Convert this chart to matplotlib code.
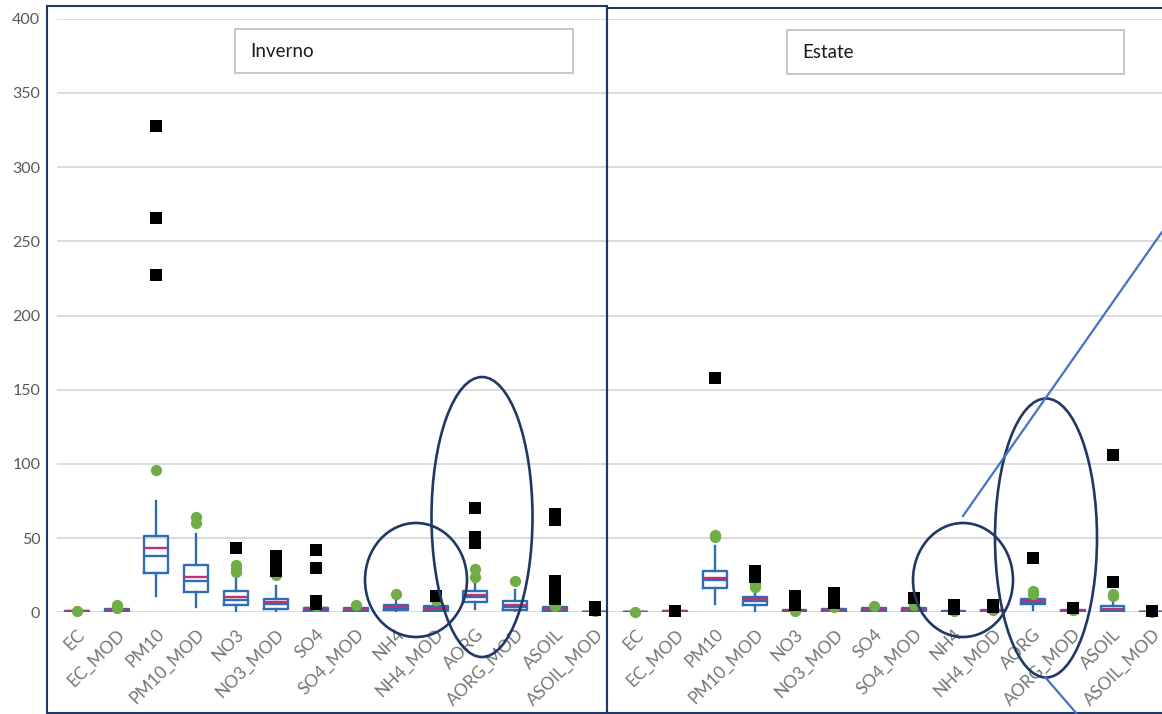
import matplotlib
matplotlib.use("Agg")
import matplotlib.pyplot as plt
from matplotlib.patches import Rectangle, Ellipse

plt.rcParams['font.family'] = ['Lato', 'DejaVu Sans']

# --- data -------------------------------------------------------------
species = ["EC", "EC_MOD", "PM10", "PM10_MOD", "NO3", "NO3_MOD", "SO4", "SO4_MOD",
           "NH4", "NH4_MOD", "AORG", "AORG_MOD", "ASOIL", "ASOIL_MOD"]

# Inverno (winter)
inv_q1     = [0.2, 0.4, 26.8, 13.9, 4.7, 2.5, 0.7, 0.6, 1.3, 0.7, 7.0, 1.3, 0.2, 0.0]
inv_med    = [0.4, 1.0, 38.0, 21.1, 8.6, 5.6, 1.8, 1.5, 3.0, 2.2, 10.3, 3.4, 1.5, 0.2]
inv_q3     = [0.8, 2.0, 51.4, 32.0, 14.2, 9.2, 3.2, 2.8, 5.2, 4.0, 14.2, 7.6, 3.4, 0.5]
inv_mean   = [0.6, 1.4, 43.6, 23.7, 10.1, 6.7, 2.7, 2.2, 3.6, 2.9, 11.9, 4.9, 2.7, 0.3]
inv_wlo    = [0.0, 0.1, 11.0, 3.4, 0.0, 0.0, 0.0, 0.0, 0.0, 0.0, 2.5, 0.0, 0.0, 0.0]
inv_whi    = [1.2, 3.0, 75.3, 52.7, 23.8, 17.5, 4.5, 4.0, 9.2, 6.7, 21.6, 14.8, 5.0, 0.8]
inv_circle = [[1.1], [5.2, 3.1], [95.8], [64.0, 60.2], [31.7, 29.5, 27.2], [25.0],
              [4.5], [5.0], [12.6], [8.1], [29.0, 24.0], [21.1], [4.5], [1.0]]
inv_square = [[], [], [327.4, 265.6, 227.5], [], [43.6], [38.0, 35.5, 33.0, 30.5, 28.0],
              [42.3, 29.9, 7.5, 5.5], [], [], [11.2], [70.0, 50.5, 47.0], [],
              [66.5, 62.0, 21.0, 18.0, 15.0, 12.0, 9.0], [3.5, 1.8]]

# Estate (summer)
est_q1     = [0.1, 0.2, 16.4, 5.2, 0.3, 0.2, 0.8, 0.9, 0.0, 0.2, 5.4, 0.3, 0.5, 0.0]
est_med    = [0.2, 0.5, 21.6, 7.6, 0.8, 0.8, 1.8, 1.8, 0.3, 0.7, 6.5, 0.8, 1.8, 0.1]
est_q3     = [0.5, 1.2, 27.9, 10.3, 1.8, 2.0, 3.0, 3.2, 0.8, 1.3, 8.8, 1.5, 4.5, 0.3]
est_mean   = [0.3, 0.8, 23.1, 9.2, 1.2, 1.2, 2.2, 2.2, 0.5, 0.9, 7.4, 1.0, 2.5, 0.2]
est_wlo    = [0.0, 0.0, 5.9, 0.9, 0.0, 0.0, 0.0, 0.0, 0.0, 0.0, 1.3, 0.0, 0.0, 0.0]
est_whi    = [0.6, 1.5, 44.5, 13.7, 2.5, 3.0, 3.5, 3.5, 1.0, 1.8, 11.0, 2.0, 7.0, 0.5]
est_circle = [[0.5], [], [52.0, 50.5], [19.0, 17.1], [1.0], [3.6], [4.3], [4.7],
              [1.0], [1.5], [14.4, 12.6], [1.5], [12.6, 11.0], [0.5]]
est_square = [[], [1.2], [158.0], [27.5, 26.0, 24.0], [11.0, 9.0, 7.0, 5.0],
              [13.0, 11.0, 9.0, 7.0, 6.0], [], [9.9], [4.7, 2.5], [5.2, 3.5], [36.7],
              [3.2], [106.3, 20.2], [1.0]]

# --- style ------------------------------------------------------------
W, H = 1162, 714
BLUE = "#2e6db4"
PINK = "#b8356f"
GREEN = "#70ad47"
NAVY = "#1f3864"
GRID = "#d9d9d9"
YLABEL = "#595959"
XLABEL = "#767676"

fig = plt.figure(figsize=(W / 100, H / 100), dpi=100)
fig.patch.set_facecolor("white")


def px_axes(x0, x1, ytop, ybot):
    return fig.add_axes([x0 / W, (H - ybot) / H, (x1 - x0) / W, (ybot - ytop) / H])


def draw_panel(ax, q1, med, q3, mean, wlo, whi, circles, squares, xlim, show_y):
    stats = []
    for i in range(len(species)):
        stats.append(dict(label=species[i], q1=q1[i], med=med[i], q3=q3[i], mean=mean[i],
                          whislo=wlo[i], whishi=whi[i], fliers=[]))
    pos = list(range(len(species)))
    ax.bxp(stats, positions=pos, widths=0.6, showmeans=True, meanline=True,
           showcaps=False, showfliers=False,
           boxprops=dict(color=BLUE, lw=1.7),
           whiskerprops=dict(color=BLUE, lw=1.7),
           medianprops=dict(color=BLUE, lw=1.7),
           meanprops=dict(color=PINK, lw=1.7, ls="-"))

    cx = [i for i, vals in enumerate(circles) for _ in vals]
    cy = [v for vals in circles for v in vals]
    sx = [i for i, vals in enumerate(squares) for _ in vals]
    sy = [v for vals in squares for v in vals]
    ax.scatter(cx, cy, marker="o", s=66, color=GREEN, lw=0, zorder=4, clip_on=False)
    ax.scatter(sx, sy, marker="s", s=68, color="black", lw=0, zorder=5, clip_on=False)

    ax.set_xlim(*xlim)
    ax.set_ylim(0, 400)
    ax.set_yticks(range(0, 401, 50))
    ax.set_xticks(pos)
    ax.set_xticklabels(species, rotation=45, ha="right", rotation_mode="anchor",
                       fontsize=12.5, color=XLABEL)
    ax.tick_params(axis="x", length=0, pad=10)
    ax.tick_params(axis="y", length=0, pad=12, labelsize=11.5, labelcolor=YLABEL,
                   labelleft=show_y)
    ax.grid(axis="y", color=GRID, lw=1.3)
    ax.set_axisbelow(True)
    for s in ax.spines.values():
        s.set_visible(False)
    ax.set_facecolor("none")


ax_r = px_axes(600, 1162, 18.7, 612.3)
draw_panel(ax_r, est_q1, est_med, est_q3, est_mean, est_wlo, est_whi,
           est_circle, est_square, (-0.893, 13.245), False)

ax_l = px_axes(57, 607, 18.7, 612.3)
draw_panel(ax_l, inv_q1, inv_med, inv_q3, inv_mean, inv_wlo, inv_whi,
           inv_circle, inv_square, (-0.494, 13.30), True)

# --- overlay: frames, title boxes and hand-drawn marks ------------------
ov = fig.add_axes([0, 0, 1, 1], zorder=10)
ov.set_xlim(0, W)
ov.set_ylim(H, 0)
ov.axis("off")
ov.patch.set_alpha(0)

ov.add_patch(Rectangle((46.7, 6), 560.3, 707, fill=False, ec=NAVY, lw=1.5))
ov.add_patch(Rectangle((607, 8), 600, 705, fill=False, ec=NAVY, lw=1.5))

for (x0, y0, x1, y1, tx, txt) in [(235, 29.3, 573, 73.3, 250.7, "Inverno"),
                                   (786.7, 30, 1124, 74, 802.7, "Estate")]:
    ov.add_patch(Rectangle((x0, y0), x1 - x0, y1 - y0, fc="white", ec="#bfbfbf", lw=1.2))
    ov.text(tx, (y0 + y1) / 2, txt, fontsize=13.5, color="#1a1a1a", va="center", ha="left")

for (cx, cy, w, h) in [(416, 580, 102, 114), (482, 517, 101, 280),
                       (963, 580, 100, 114), (1046, 538, 102, 279)]:
    ov.add_patch(Ellipse((cx, cy), w, h, fill=False, ec=NAVY, lw=1.9))

ov.plot([963, 1162], [516, 232], color="#4472c4", lw=1.6)
ov.plot([1045, 1077], [677, 714], color="#4472c4", lw=1.6)

fig.savefig("out.png", dpi=100, facecolor="white")
